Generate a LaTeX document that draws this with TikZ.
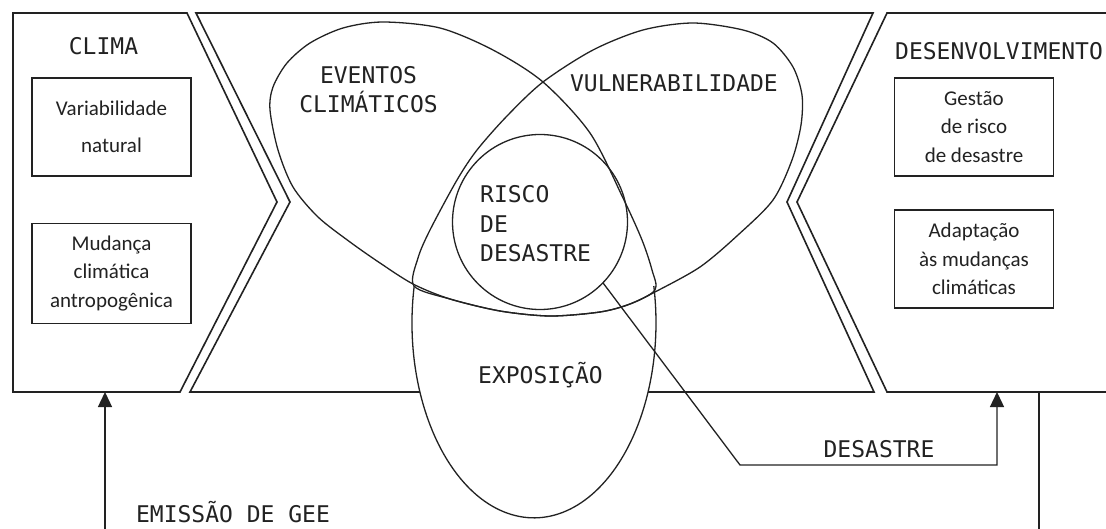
\documentclass[tikz,border=0pt]{standalone}
\usepackage{fontspec}
\newfontfamily\capsfont{DejaVu Sans Mono}
\newfontfamily\handfont{Carlito}
\usetikzlibrary{shapes.geometric,arrows.meta}
\definecolor{ink}{HTML}{222222}
\begin{document}
\begin{tikzpicture}[x=1pt,y=-1pt,
  panelline/.style={draw=ink, line width=1.6pt, line join=miter},
  vennshape/.style={draw=ink, line width=1.3pt, inner sep=0pt, outer sep=0pt},
  textbox/.style={draw=ink, line width=1.3pt, minimum width=159pt, minimum height=98pt, inner sep=0pt, align=center, font=\handfont\fontsize{21}{28.5}\selectfont, text=ink},
  capslbl/.style={font=\capsfont\fontsize{23}{29.5}\selectfont, text=ink, inner sep=0pt},
  flowline/.style={draw=ink, line width=1.3pt},
  headtip/.style={-{Triangle[length=15pt,width=14pt]}}
]
\fill[white] (0,0) rectangle (1106,529);
\useasboundingbox (0,0) rectangle (1106,529);

% panels
\draw[panelline] (180,392) -- (13,392) -- (13,13) -- (187,13) -- (277,202) -- cycle;
\draw[panelline] (196,13) -- (873,13) -- (787,202) -- (874,392) -- (190,392) -- (290,202) -- cycle;
\draw[panelline] (1106,13) -- (887,13) -- (797,202) -- (887,392) -- (1106,392);

% exposure (lower part; its upper part runs along the other two shapes)
\fill[white] (414.2,286) arc[start angle=169.1, end angle=370.9, x radius=122pt, y radius=195pt] -- cycle;
\draw[vennshape] (414.2,286) arc[start angle=169.1, end angle=370.9, x radius=122pt, y radius=195pt];

% climate events
\draw[vennshape] plot[smooth cycle] coordinates {
  (270,110) (273,87) (287,63) (310,43) (343,28) (383,22) (440,28) (493,50)
  (543,82) (590,133) (623,198) (642,240) (652,270) (655,290)
  (630,304) (600,312) (550,316) (500,311) (450,299) (413,284) (380,263)
  (350,242) (318,217) (293,187) (278,150)};
% vulnerability
\draw[vennshape] plot[smooth cycle] coordinates {
  (414,286) (418,258) (430,230) (457,180) (477,150) (507,116) (543,82)
  (593,50) (643,30) (693,23) (743,30) (773,43) (793,67) (802,95) (801,125)
  (792,160) (773,200) (738,235) (700,267) (655,292) (630,304) (600,312)
  (550,316) (500,311) (450,299)};
% disaster risk
\node[vennshape, circle, minimum size=175pt] (risk) at (540,222) {};

% boxes
\node[textbox] (var) at (111.5,127) {Variabilidade\\[8pt]natural};
\node[textbox, minimum height=100pt] (mud) at (111.5,273.5) {Mudança\\climática\\antropogênica};
\node[textbox] (ges) at (974,127) {Gestão\\de risco\\de desastre};
\node[textbox] (ada) at (974,259) {Adaptação\\às mudanças\\climáticas};

% labels
\node[capslbl, anchor=base] (climalbl) at (103.5,55) {CLIMA};
\node[capslbl, anchor=base west] (desenvlbl) at (895,60) {DESENVOLVIMENTO};
\node[capslbl, anchor=base, align=center] (evlbl) at (368.5,113) {EVENTOS\\CLIMÁTICOS};
\node[capslbl, anchor=base] (vullbl) at (674,92) {VULNERABILIDADE};
\node[capslbl, anchor=base west, align=left] (risklbl) at (480,262) {RISCO\\DE\\DESASTRE};
\node[capslbl, anchor=base] (expolbl) at (540.5,383) {EXPOSIÇÃO};
\node[capslbl, anchor=base] (desastrelbl) at (879,457) {DESASTRE};
\node[capslbl, anchor=base] (geelbl) at (233,522) {EMISSÃO DE GEE};

% connectors
\coordinate (geebot) at (105,529);
\coordinate (climain) at (105,392);
\draw[flowline, headtip] (geebot) -- (climain);
\coordinate (bend) at (740,465);
\coordinate (desin) at (997,392);
\draw[flowline, headtip] (risk.-44) -- (bend) -| (desin);
\coordinate (devtop) at (1039,392);
\coordinate (devbot) at (1039,529);
\draw[flowline] (devtop) -- (devbot);
\end{tikzpicture}
\end{document}
